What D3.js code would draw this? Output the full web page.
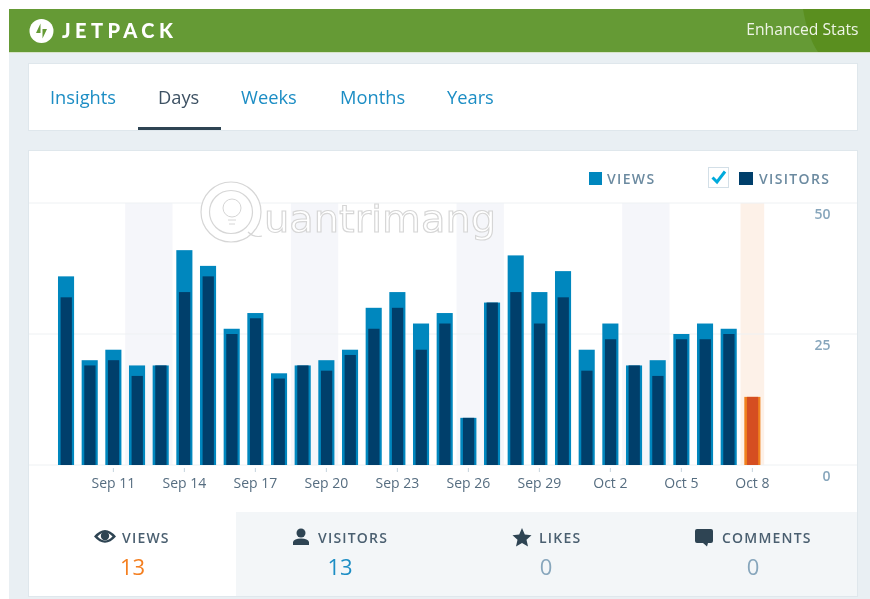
<!DOCTYPE html>
<html><head><meta charset="utf-8">
<script src="https://cdnjs.cloudflare.com/ajax/libs/d3/7.8.5/d3.min.js"></script>
<style>
html,body{margin:0;padding:0;background:#fff;overflow:hidden}
svg{display:block;font-family:"Open Sans",sans-serif;filter:blur(0.45px)}
</style></head><body><svg id="c" width="870" height="599"></svg>
<script>
const categories=["Sep 9","Sep 10","Sep 11","Sep 12","Sep 13","Sep 14","Sep 15","Sep 16","Sep 17","Sep 18","Sep 19","Sep 20","Sep 21","Sep 22","Sep 23","Sep 24","Sep 25","Sep 26","Sep 27","Sep 28","Sep 29","Sep 30","Oct 1","Oct 2","Oct 3","Oct 4","Oct 5","Oct 6","Oct 7","Oct 8"];
const views=[36,20,22,19,19,41,38,26,29,17.5,19,20,22,30,33,27,29,9,31,40,33,37,22,27,19,20,25,27,26,13];
const visitors=[32,19,20,17,19,33,36,25,28,16.5,19,18,21,26,30,22,27,9,31,33,27,32,18,24,19,17,24,24,25,13];
const xTickLabels=["Sep 11","Sep 14","Sep 17","Sep 20","Sep 23","Sep 26","Sep 29","Oct 2","Oct 5","Oct 8"];
const yTickValues=[0,25,50];
const weekendPairs=[["Sep 12","Sep 13"],["Sep 19","Sep 20"],["Sep 26","Sep 27"],["Oct 3","Oct 4"]];
const todayLabel="Oct 8";
const tabs=[["Insights",50,false],["Days",158,true],["Weeks",241,false],["Months",340,false],["Years",447,false]];
const summary=[["VIEWS","13",122,132.5,"#f47f20"],["VISITORS","13",318,340,"#1c8dc4"],["LIKES","0",539,546,"#87a6bc"],["COMMENTS","0",722,753,"#87a6bc"]];

const svg=d3.select("#c");
const R=(x,y,w,h,f)=>svg.append("rect").attr("x",x).attr("y",y).attr("width",w).attr("height",h).attr("fill",f);

// page
R(9,9,861,590,"#e9eff3");
R(9,9,861,43,"#659a35");
svg.append("path").attr("d","M803 9 Q808 38 818 52 L870 52 L870 9 Z").attr("fill","#5a8f1f");
R(9,52,861,1,"#d7e3c8");

// logo
svg.append("circle").attr("cx",41.5).attr("cy",31).attr("r",12).attr("fill","#fff");
svg.append("path").attr("d","M40.5 23.5 L40.5 33 L36 33 Z M42.5 38.5 L42.5 29 L47 29 Z").attr("fill","#659a35");
svg.append("text").attr("x",62).attr("y",38).attr("fill","#fff").attr("font-family","Lato").attr("font-weight",900).attr("font-size",20).attr("letter-spacing",4.4).text("JETPACK");
svg.append("text").attr("x",858.5).attr("y",35).attr("text-anchor","end").attr("fill","#eef4e6").attr("font-size",15.7).text("Enhanced Stats");

// tab card
R(28,63,830,68,"#dfe7ec");
R(29,64,828,66,"#fff");
svg.append("g").selectAll("text").data(tabs).join("text")
  .attr("x",d=>d[1]).attr("y",104).attr("font-size",18.3)
  .attr("fill",d=>d[2]?"#3d5163":"#1c8dc4").text(d=>d[0]);
R(138,127,83,3,"#2e4453");

// chart card
R(28,150,830,447,"#dfe7ec");
R(29,151,828,445,"#fff");

const x=d3.scaleBand().domain(categories).range([54.2,764.2]).paddingInner(0.32).paddingOuter(0.16);
const y=d3.scaleLinear().domain([0,50]).range([465,203]);
const step=x.step();
const left=c=>x(c)-(step-x.bandwidth())/2;

// bands
svg.append("g").selectAll("rect").data(weekendPairs).join("rect")
  .attr("x",d=>left(d[0])).attr("y",y(50)).attr("width",step*2).attr("height",y(0)-y(50)).attr("fill","#f5f6fa");
R(left(todayLabel),y(50),step,y(0)-y(50),"#fdf1e8");

// grid
svg.append("g").selectAll("line").data(yTickValues).join("line")
  .attr("x1",29).attr("x2",857).attr("y1",d=>y(d)).attr("y2",d=>y(d)).attr("stroke","#eef1f3");

// watermark
const wm=svg.append("g").attr("fill","none").attr("stroke","#d6d6d6");
wm.append("circle").attr("cx",231).attr("cy",212).attr("r",30).attr("stroke-width",1.2).attr("fill","#fff");
wm.append("circle").attr("cx",231).attr("cy",212).attr("r",21.5).attr("stroke-width",1.2);
wm.append("path").attr("d","M248 232 Q254 238 262 236").attr("stroke-width",1.2);
wm.append("circle").attr("cx",232).attr("cy",208).attr("r",9);
wm.append("path").attr("d","M228 220 h8 M229 224 h6");
wm.append("text").attr("x",264).attr("y",232).attr("font-family","DejaVu Sans").attr("font-size",38).attr("fill","#fff").attr("stroke-width",1.1).attr("textLength",232).attr("lengthAdjust","spacingAndGlyphs").text("uantrimang");

// bars
svg.append("g").selectAll("rect").data(categories).join("rect")
  .attr("x",d=>x(d)).attr("width",x.bandwidth())
  .attr("y",(d,i)=>y(views[i])).attr("height",(d,i)=>y(0)-y(views[i]))
  .attr("fill",d=>d===todayLabel?"#f0821e":"#0087be");
svg.append("g").selectAll("rect").data(categories).join("rect")
  .attr("x",d=>x(d)+2.6).attr("width",x.bandwidth()-4.8)
  .attr("y",(d,i)=>y(visitors[i])).attr("height",(d,i)=>y(0)-y(visitors[i]))
  .attr("fill",d=>d===todayLabel?"#d54e21":"#003f6b");

// axes
const gx=svg.append("g").attr("transform","translate(0,468)")
  .call(d3.axisBottom(x).tickValues(xTickLabels).tickSize(4).tickPadding(6));
gx.select(".domain").remove();
gx.selectAll("line").attr("stroke","#c5d3dd");
gx.selectAll("text").attr("font-family","Open Sans").attr("font-size",14).attr("fill","#566d80");
const gy=svg.append("g").attr("transform","translate(830.5,11)")
  .call(d3.axisRight(y).tickValues(yTickValues).tickSize(0).tickPadding(0));
gy.select(".domain").remove();
gy.selectAll("text").attr("text-anchor","end").attr("font-family","Open Sans").attr("font-weight",600).attr("font-size",14).attr("fill","#87a6bc");

// legend
R(589,172,13,13,"#0087be");
svg.append("text").attr("x",607).attr("y",184).attr("font-size",14).attr("font-weight",600).attr("letter-spacing",1.35).attr("fill","#6b8aa0").text("VIEWS");
svg.append("rect").attr("x",708.5).attr("y",167.5).attr("width",20).attr("height",20).attr("fill","#fff").attr("stroke","#d3dfe7");
svg.append("path").attr("d","M712.5 177.5 L717 182 L725 171.5").attr("fill","none").attr("stroke","#00aadc").attr("stroke-width",3);
R(739,172,14,13,"#003f6b");
svg.append("text").attr("x",759).attr("y",184).attr("font-size",14).attr("font-weight",600).attr("letter-spacing",1.35).attr("fill","#6b8aa0").text("VISITORS");

// summary tabs
R(236,512,621,84,"#f3f6f8");
const s=svg.append("g");
s.selectAll("text.l").data(summary).join("text").attr("class","l")
  .attr("x",d=>d[2]).attr("y",543).attr("font-size",14).attr("font-weight",600).attr("letter-spacing",1.2).attr("fill","#4a5f70").text(d=>d[0]);
s.selectAll("text.v").data(summary).join("text").attr("class","v")
  .attr("x",d=>d[3]).attr("y",575).attr("text-anchor","middle").attr("font-size",22).attr("fill",d=>d[4]).text(d=>d[1]);

// icons
const ic="#2e4453";
svg.append("path").attr("d","M94 536.5 Q105 523.5 116 536.5 Q105 549 94 536.5 Z M97.5 536.5 Q105 544.5 112.5 536.5 Q105 528.5 97.5 536.5 Z").attr("fill",ic).attr("fill-rule","evenodd");
svg.append("circle").attr("cx",105).attr("cy",536).attr("r",4.2).attr("fill",ic);
svg.append("circle").attr("cx",301).attr("cy",533).attr("r",4.5).attr("fill",ic);
svg.append("path").attr("d","M293 545 L293 542 Q294 538.5 301 538.5 Q308 538.5 309 542 L309 545 Z").attr("fill",ic);
svg.append("path").attr("d","M522 528 L524.8 534.5 L531.5 535.2 L526.5 539.8 L528 546.5 L522 543 L516 546.5 L517.5 539.8 L512.5 535.2 L519.2 534.5 Z").attr("fill",ic);
svg.append("path").attr("d","M697 529 H711 Q713 529 713 531 V541 Q713 543 711 543 H708 L707 546.5 L703 543 H697 Q695 543 695 541 V531 Q695 529 697 529 Z").attr("fill",ic);
</script></body></html>
